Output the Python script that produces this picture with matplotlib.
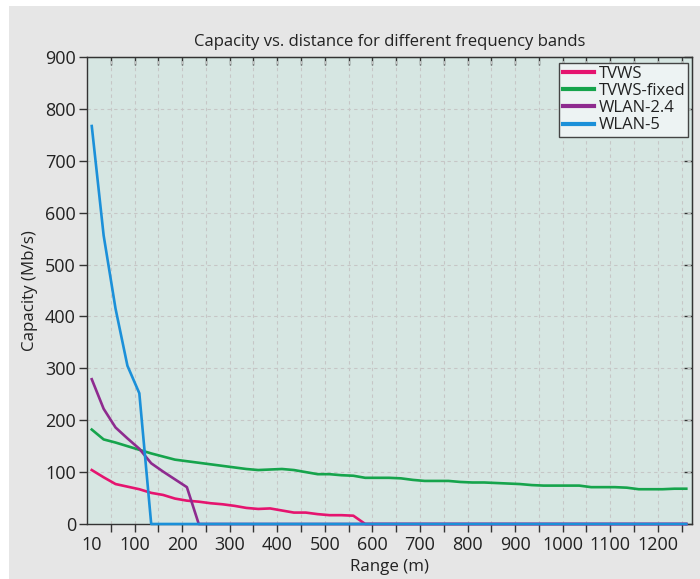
import matplotlib
matplotlib.use("Agg")
import matplotlib.pyplot as plt
from matplotlib.patches import Rectangle

# ---------------- data ----------------
range_m = [10 + 25 * i for i in range(51)]

tvws = [104, 90, 77, 72, 67, 60, 56, 49, 45, 43,
        40, 38, 35, 31, 29, 30, 26, 22, 22, 19,
        17, 17, 16, 0, 0, 0, 0, 0, 0, 0,
        0, 0, 0, 0, 0, 0, 0, 0, 0, 0,
        0, 0, 0, 0, 0, 0, 0, 0, 0, 0, 0]

tvws_fixed = [182, 163, 157, 150, 143, 136, 130, 124, 121, 118,
              115, 112, 109, 106, 104, 105, 106, 104, 100, 96,
              96, 94, 93, 89, 89, 89, 88, 85, 83, 83,
              83, 81, 80, 80, 79, 78, 77, 75, 74, 74,
              74, 74, 71, 71, 71, 70, 67, 67, 67, 68, 68]

wlan24 = [279, 222, 186, 165, 145, 117, 101, 86, 71, 0,
          0, 0, 0, 0, 0, 0, 0, 0, 0, 0,
          0, 0, 0, 0, 0, 0, 0, 0, 0, 0,
          0, 0, 0, 0, 0, 0, 0, 0, 0, 0,
          0, 0, 0, 0, 0, 0, 0, 0, 0, 0, 0]

wlan5 = [767, 556, 415, 305, 252, 0, 0, 0, 0, 0,
         0, 0, 0, 0, 0, 0, 0, 0, 0, 0,
         0, 0, 0, 0, 0, 0, 0, 0, 0, 0,
         0, 0, 0, 0, 0, 0, 0, 0, 0, 0,
         0, 0, 0, 0, 0, 0, 0, 0, 0, 0, 0]

series_names = ["TVWS", "TVWS-fixed", "WLAN-2.4", "WLAN-5"]
x_tick_values = [10] + list(range(50, 1251, 50))
x_tick_labels = ["10"] + [str(v) if v % 100 == 0 else "" for v in range(50, 1251, 50)]
y_tick_values = list(range(0, 901, 100))

title_text = "Capacity vs. distance for different frequency bands"
x_label = "Range (m)"
y_label = "Capacity (Mb/s)"

# ---------------- style ----------------
plt.rcParams['font.family'] = ['Open Sans', 'DejaVu Sans']
colors = ["#e5146f", "#16a44c", "#8e2b8f", "#1b90d9"]
text_color = "#222222"

fig = plt.figure(figsize=(7.0, 5.79), dpi=100)
fig.patch.set_facecolor("white")
fig.patches.append(Rectangle((9 / 700, 0), 1, 1 - 6 / 579, transform=fig.transFigure,
                             facecolor="#e6e6e6", edgecolor="none", zorder=-10))

ax = fig.add_axes([87 / 700, 1 - 524 / 579, (692 - 87) / 700, (524 - 57) / 579])
ax.set_facecolor("#d6e6e2")

for vals, name, c in zip([tvws, tvws_fixed, wlan24, wlan5], series_names, colors):
    ax.plot(range_m, vals, color=c, lw=1.9, label=name, clip_on=False, zorder=3,
            solid_joinstyle="round")

ax.set_xlim(0, 1272)
ax.set_ylim(0, 900)

ax.set_xticks(x_tick_values)
ax.set_xticklabels(x_tick_labels)
ax.set_yticks(y_tick_values)
ax.tick_params(axis="both", direction="out", length=6, width=1, colors="#333333",
               labelsize=13, labelcolor=text_color)
ax.tick_params(axis="x", pad=3)
ax.tick_params(axis="y", pad=2)

ax.grid(True, color="#c6c6c6", linestyle=(0, (3, 3)), linewidth=0.8)
ax.set_axisbelow(True)
# no tick mark / gridline at the "10" label
t0 = ax.xaxis.get_major_ticks()[0]
t0.tick1line.set_visible(False)
t0.gridline.set_visible(False)

for s in ax.spines.values():
    s.set_color("#333333")
    s.set_linewidth(1.0)

secx = ax.secondary_xaxis("top")
secx.set_xticks(list(range(50, 1251, 50)))
secx.tick_params(direction="in", length=6, width=1, colors="#333333", labeltop=False)
secx.spines["top"].set_color("#333333")

secy = ax.secondary_yaxis("right")
secy.set_yticks(y_tick_values)
secy.tick_params(direction="in", length=6, width=1, colors="#333333", labelright=False)
secy.spines["right"].set_color("#333333")

ax.set_title(title_text, fontsize=12, color=text_color, pad=8)
ax.set_xlabel(x_label, fontsize=12.2, color=text_color, labelpad=3)
ax.set_ylabel(y_label, fontsize=12.2, color=text_color, labelpad=5)

leg = ax.legend(loc="upper right", bbox_to_anchor=(0.994, 0.988), fontsize=12,
                frameon=True, fancybox=False, handlelength=1.9, handletextpad=0.25,
                borderpad=0.2, labelspacing=0.07, borderaxespad=0.0)
leg.get_frame().set_edgecolor("#444444")
leg.get_frame().set_facecolor("#edf3f3")
leg.get_frame().set_alpha(1.0)
leg.get_frame().set_linewidth(1.0)
for line in leg.get_lines():
    line.set_linewidth(3)
for t in leg.get_texts():
    t.set_color(text_color)

fig.savefig("out.png", dpi=100, facecolor=fig.get_facecolor())
